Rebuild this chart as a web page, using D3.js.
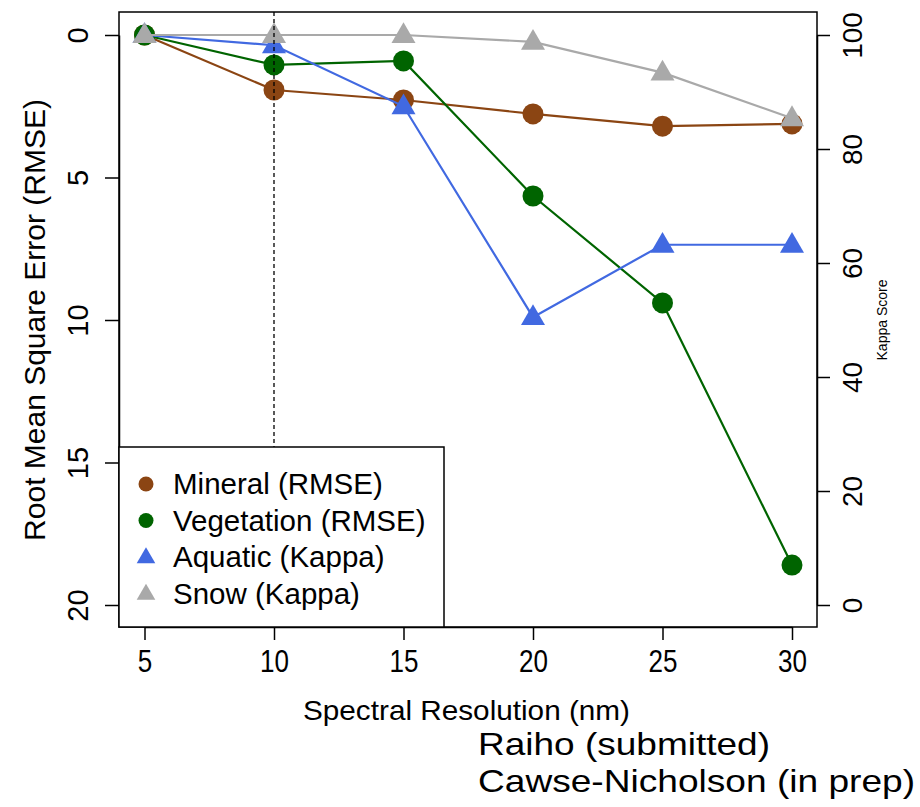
<!DOCTYPE html>
<html>
<head>
<meta charset="utf-8">
<script src="https://cdn.jsdelivr.net/npm/d3@7"></script>
<style>
  body { margin: 0; background: #fff; }
  text { font-family: "Liberation Sans", Arial, sans-serif; fill: #000; }
</style>
</head>
<body>
<div id="chart"></div>
<script>
// data
const resolution = [5, 10, 15, 20, 25, 30]
const mineralRmse = [0, 1.93, 2.28, 2.77, 3.2, 3.12]
const vegetationRmse = [0, 1.05, 0.91, 5.65, 9.4, 18.6]
const aquaticKappa = [100, 98.2, 87.5, 50.5, 63.2, 63.2]
const snowKappa = [100, 100, 100, 98.8, 93.4, 85.4]
const xTicks = [5, 10, 15, 20, 25, 30]
const rmseTicks = [0, 5, 10, 15, 20]
const kappaTicks = [0, 20, 40, 60, 80, 100]
const legendLabels = ["Mineral (RMSE)", "Vegetation (RMSE)", "Aquatic (Kappa)", "Snow (Kappa)"]
const credits = ["Raiho (submitted)", "Cawse-Nicholson (in prep)"]

const series = [
  { name: legendLabels[0], values: mineralRmse, axis: "rmse", shape: "circle", color: "#8B4513" },
  { name: legendLabels[1], values: vegetationRmse, axis: "rmse", shape: "circle", color: "#006400" },
  { name: legendLabels[2], values: aquaticKappa, axis: "kappa", shape: "triangle", color: "#4169E1" },
  { name: legendLabels[3], values: snowKappa, axis: "kappa", shape: "triangle", color: "#A9A9A9" },
]

// dimensions
const width = 920, height = 807
const box = { left: 119, right: 817, top: 12, bottom: 627 }

const svg = d3.select("#chart").append("svg")
  .attr("width", width)
  .attr("height", height)

// scales
const xScale = d3.scaleLinear().domain([5, 30]).range([144.5, 792])
const rmseScale = d3.scaleLinear().domain([0, 20]).range([35, 605])
const kappaScale = d3.scaleLinear().domain([0, 100]).range([605, 35])
const yFor = s => s.axis === "rmse" ? rmseScale : kappaScale

// lines + points
const circle = d3.symbol().type(d3.symbolCircle).size(Math.PI * 10.5 * 10.5)
const triangle = d3.symbol().type(d3.symbolTriangle).size(250)

series.forEach(s => {
  const y = yFor(s)
  const pts = resolution.map((r, i) => [r, s.values[i]])
  const line = d3.line().x(d => xScale(d[0])).y(d => y(d[1]))
  svg.append("path")
    .attr("d", line(pts))
    .attr("fill", "none")
    .attr("stroke", s.color)
    .attr("stroke-width", 2.2)
  svg.append("g").selectAll("path")
    .data(pts)
    .join("path")
    .attr("d", s.shape === "circle" ? circle : triangle)
    .attr("transform", d => `translate(${xScale(d[0])},${y(d[1]) + (s.shape === "triangle" ? 1 : 0)})`)
    .attr("fill", s.color)
})

// dashed reference line at 10 nm
svg.append("line")
  .attr("x1", xScale(10)).attr("x2", xScale(10))
  .attr("y1", box.top).attr("y2", box.bottom)
  .attr("stroke", "#000")
  .attr("stroke-width", 1.3)
  .attr("stroke-dasharray", "4,3")

// box
svg.append("rect")
  .attr("x", box.left).attr("y", box.top)
  .attr("width", box.right - box.left).attr("height", box.bottom - box.top)
  .attr("fill", "none").attr("stroke", "#000").attr("stroke-width", 1.5)

// x axis
const xAxis = svg.append("g")
  .attr("transform", `translate(0,${box.bottom})`)
  .call(d3.axisBottom(xScale).tickValues(xTicks).tickSize(13).tickSizeOuter(0))
xAxis.select(".domain").attr("stroke-width", 1.5)
xAxis.selectAll(".tick line").attr("stroke-width", 1.5)
xAxis.selectAll(".tick text")
  .attr("y", 45).attr("dy", null)
  .attr("font-size", 31)
  .attr("transform", "scale(0.84,1)")

// left axis
const leftAxis = svg.append("g")
  .attr("transform", `translate(${box.left},0)`)
  .call(d3.axisLeft(rmseScale).tickValues(rmseTicks).tickSize(14).tickSizeOuter(0))
leftAxis.select(".domain").attr("stroke-width", 1.5)
leftAxis.selectAll(".tick line").attr("stroke-width", 1.5)
leftAxis.selectAll(".tick text")
  .attr("x", null).attr("dy", null)
  .attr("text-anchor", "middle")
  .attr("font-size", 29)
  .attr("transform", "translate(-41,0) rotate(-90) translate(0,10)")

// right axis
const rightAxis = svg.append("g")
  .attr("transform", `translate(${box.right},0)`)
  .call(d3.axisRight(kappaScale).tickValues(kappaTicks).tickSize(13).tickSizeOuter(0))
rightAxis.select(".domain").attr("stroke-width", 1.5)
rightAxis.selectAll(".tick line").attr("stroke-width", 1.5)
rightAxis.selectAll(".tick text")
  .attr("x", null).attr("dy", null)
  .attr("text-anchor", "middle")
  .attr("font-size", 28)
  .attr("transform", "translate(35,0) rotate(-90) translate(0,10)")

// axis titles
svg.append("text")
  .attr("transform", `translate(45,${(rmseScale(0) + rmseScale(20)) / 2}) rotate(-90)`)
  .attr("text-anchor", "middle")
  .attr("font-size", 30)
  .text("Root Mean Square Error (RMSE)")

svg.append("text")
  .attr("transform", `translate(887,${kappaScale(50)}) rotate(-90)`)
  .attr("text-anchor", "middle")
  .attr("font-size", 14)
  .text("Kappa Score")

svg.append("text")
  .attr("x", 303)
  .attr("y", 720)
  .attr("font-size", 28)
  .attr("textLength", 327)
  .attr("lengthAdjust", "spacingAndGlyphs")
  .text("Spectral Resolution (nm)")

// credits
const creditWidths = [292, 437]
svg.append("g").selectAll("text")
  .data(credits)
  .join("text")
  .attr("x", 478)
  .attr("y", (d, i) => 755 + i * 37)
  .attr("font-size", 32)
  .attr("textLength", (d, i) => creditWidths[i])
  .attr("lengthAdjust", "spacingAndGlyphs")
  .text(d => d)

// legend
const legend = svg.append("g")
legend.append("rect")
  .attr("x", box.left).attr("y", 447)
  .attr("width", 444 - box.left).attr("height", box.bottom - 447)
  .attr("fill", "#fff").attr("stroke", "#000").attr("stroke-width", 1.5)

const legendSymbolCircle = d3.symbol().type(d3.symbolCircle).size(Math.PI * 7.5 * 7.5)
const legendSymbolTriangle = d3.symbol().type(d3.symbolTriangle).size(150)
const items = legend.selectAll(".item")
  .data(series)
  .join("g")
  .attr("transform", (d, i) => `translate(146,${484 + i * 36.5})`)
items.append("path")
  .attr("d", d => d.shape === "circle" ? legendSymbolCircle() : legendSymbolTriangle())
  .attr("transform", d => d.shape === "triangle" ? "translate(0,1)" : null)
  .attr("fill", d => d.color)
items.append("text")
  .attr("x", 27)
  .attr("y", 10)
  .attr("font-size", 29.5)
  .text(d => d.name)
</script>
</body>
</html>
